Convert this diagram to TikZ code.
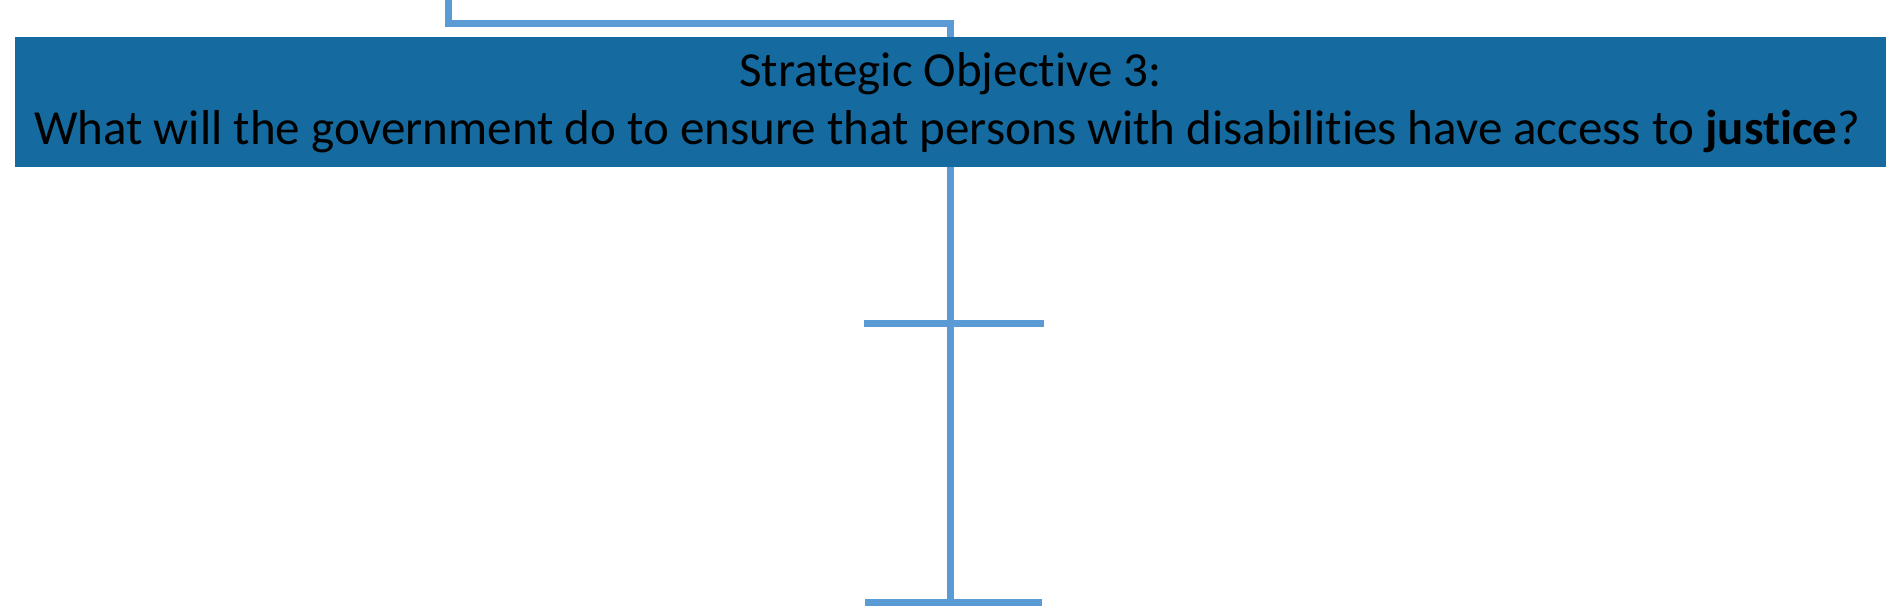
\documentclass[tikz,border=0pt]{standalone}
\usepackage{fontspec}
\setmainfont{Carlito}[Ligatures={NoCommon}]
\definecolor{boxblue}{RGB}{21,106,159}
\definecolor{linkblue}{RGB}{91,155,213}
\begin{document}
\begin{tikzpicture}[x=0.5pt,y=-0.5pt,
  objbox/.style={fill=boxblue,draw=none,minimum width=935.5pt,minimum height=65pt,inner sep=0pt},
  objtext/.style={anchor=base,inner sep=0pt,font=\fontsize{24.5}{29}\selectfont,text=black},
  link/.style={draw=linkblue,line width=3.5pt}]
\useasboundingbox (0,0) rectangle (1900,609);
\node[objbox] (obj) at (950.5,102) {};
\node[objtext] (title) at (950.5,87) {Strategic Objective 3:};
\node[objtext] (question) at (947,145) {What will the government do to ensure that persons with disabilities have access to \textbf{justice}?};
\coordinate (top) at (448.5,0);
\coordinate (bend) at (448.5,23.5);
\coordinate (c1) at (950.5,323.5);
\coordinate (c2) at (950.5,602.5);
\coordinate (b1l) at (864,323.5);
\coordinate (b1r) at (1044,323.5);
\coordinate (b2l) at (865,602.5);
\coordinate (b2r) at (1042,602.5);
\draw[link] (top) -- (bend) -| (obj.north -| c1);
\draw[link] (obj.south -| c1) -- (c1) -- ([yshift=1.75pt]c2);
\draw[link] (b1l) -- (b1r);
\draw[link] (b2l) -- (b2r);
\end{tikzpicture}
\end{document}
